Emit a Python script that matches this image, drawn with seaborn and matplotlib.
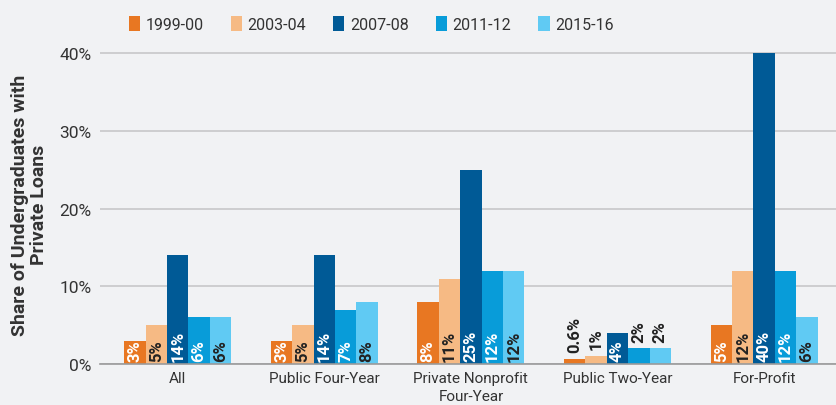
import pandas as pd
import matplotlib.pyplot as plt
import seaborn as sns

# Daten
categories = ["All", "Public Four-Year", "Private Nonprofit\nFour-Year", "Public Two-Year", "For-Profit"]
years = ["1999-00", "2003-04", "2007-08", "2011-12", "2015-16"]
share_1999 = [3, 3, 8, 0.6, 5]
share_2003 = [5, 5, 11, 1, 12]
share_2007 = [14, 14, 25, 4, 40]
share_2011 = [6, 7, 12, 2, 12]
share_2015 = [6, 8, 12, 2, 6]
bar_labels = [
    ["3%", "3%", "8%", "0.6%", "5%"],
    ["5%", "5%", "11%", "1%", "12%"],
    ["14%", "14%", "25%", "4%", "40%"],
    ["6%", "7%", "12%", "2%", "12%"],
    ["6%", "8%", "12%", "2%", "6%"],
]

farben = ["#E87722", "#F6BA84", "#005A96", "#089CD9", "#60CAF3"]
label_farben = ["white", "#222222", "white", "white", "#222222"]

rows = []
for year, values in zip(years, [share_1999, share_2003, share_2007, share_2011, share_2015]):
    for cat, v in zip(categories, values):
        rows.append({"category": cat, "year": year, "share": v})
df = pd.DataFrame(rows)

bg = "#F1F2F4"
sns.set_style("white")
plt.rcParams["font.family"] = ["Roboto", "DejaVu Sans"]
plt.rcParams["text.color"] = "#333333"

fig = plt.figure(figsize=(8.36, 4.06), dpi=100, facecolor=bg)
ax = fig.add_axes([100 / 836, 41 / 406, 736 / 836, 320 / 406])
ax.set_facecolor(bg)

sns.barplot(data=df, x="category", y="share", hue="year", palette=farben,
            width=0.73, gap=0, saturation=1, linewidth=0, edgecolor="none",
            ax=ax, zorder=3)

ax.set_ylim(0, 41.2)
ax.set_xlim(-0.53, 4.49)
ax.set_yticks([0, 10, 20, 30, 40])
ax.set_yticklabels([f"{t}%" for t in [0, 10, 20, 30, 40]])
ax.grid(axis="y", color="#C4C4C6", linewidth=1.1, zorder=0)
for s in ["top", "right", "left"]:
    ax.spines[s].set_visible(False)
ax.spines["bottom"].set_color("#9A9A9A")
ax.spines["bottom"].set_linewidth(1.2)
ax.spines["bottom"].set_zorder(4)
ax.tick_params(axis="both", length=0, colors="#333333")
ax.tick_params(axis="y", pad=6, labelsize=12.5)
ax.tick_params(axis="x", pad=5, labelsize=11)
for t in ax.get_xticklabels():
    t.set_linespacing(1.35)

ax.set_xlabel("")
ax.set_ylabel("Share of Undergraduates with\nPrivate Loans", fontsize=14,
              fontweight="bold", color="#333333", labelpad=8, linespacing=1.1)

# Beschriftungen der Balken
for i, container in enumerate(ax.containers):
    for j, bar in enumerate(container):
        h = bar.get_height()
        x = bar.get_x() + bar.get_width() / 2
        if h < 3:
            ax.annotate(bar_labels[i][j], (x, h), xytext=(0, 5), textcoords="offset points",
                        rotation=90, ha="center", va="bottom", fontsize=12,
                        fontweight="bold", color="#222222", zorder=5)
        else:
            ax.annotate(bar_labels[i][j], (x, 0), xytext=(0, 2), textcoords="offset points",
                        rotation=90, ha="center", va="bottom", fontsize=12,
                        fontweight="bold", color=label_farben[i], zorder=5)

handles, labels = ax.get_legend_handles_labels()
ax.legend_.remove()
fig.legend(handles, labels, ncol=5, loc="center", bbox_to_anchor=(0.444, 0.938),
           frameon=False, fontsize=11.5, handlelength=0.7, handleheight=1.0,
           handletextpad=0.35, columnspacing=1.7)

plt.savefig("out.png", dpi=100, facecolor=bg)
plt.close()
